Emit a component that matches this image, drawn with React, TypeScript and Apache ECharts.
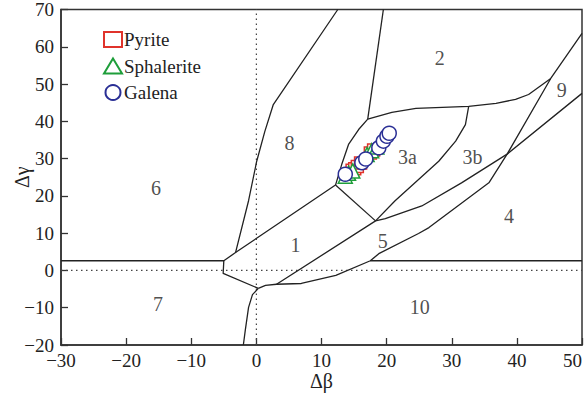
import React, { useEffect, useRef } from "react";
import * as echarts from "echarts";

// ---- data ----
const pyrite: [number, number][] = [
  [14.7, 26.9], [15.1, 27.3], [15.5, 27.9], [16.0, 28.8], [17.5, 31.5], [18.0, 32.3],
];
const sphalerite: [number, number][] = [
  [13.65, 25.3], [14.15, 26.1], [14.8, 26.7], [17.0, 31.1], [17.7, 32.1], [18.5, 33.1],
];
const galena: [number, number][] = [
  [13.65, 25.8], [16.2, 28.9], [16.8, 29.9], [18.8, 32.9], [19.5, 34.7], [20.05, 36.0], [20.4, 36.8],
];

// field boundaries
const lineA: [number, number][] = [[-30, 2.6], [-5, 2.6], [-5.1, -0.8], [0.3, -4.8]];
const lineB: [number, number][] = [[0.3, -4.8], [-0.6, -6.5], [-1.2, -9.9], [-1.7, -16], [-2, -20]];
const lineC: [number, number][] = [
  [0.3, -4.8], [1.4, -4], [3.1, -3.7], [6.9, -3.5], [12.2, -1.3], [17.5, 2.6], [18.8, 4.5],
  [24.9, 9.9], [26.5, 11.5], [35.7, 23.5], [38.5, 31.2], [45.2, 51.5], [50, 63.6],
];
const lineD: [number, number][] = [[17.5, 2.6], [50, 2.6]];
const lineE: [number, number][] = [
  [3.1, -3.7], [18.3, 13.3], [21.3, 18.7], [28, 29.3], [30.6, 34.7], [32.1, 39.1], [32.6, 44],
];
const lineF: [number, number][] = [
  [18.3, 13.3], [19.8, 13.9], [25.4, 17.3], [31.5, 23.5], [38.5, 31.2], [50, 47.5],
];
const lineG: [number, number][] = [
  [17.1, 40.6], [20.8, 42.4], [24.5, 43.5], [32.6, 44], [36.8, 44.8], [39.8, 45.9], [41.8, 47.2], [45.2, 51.5],
];
const lineH: [number, number][] = [[17.1, 40.6], [19.5, 70]];
const lineI: [number, number][] = [[12.15, 22.9], [13.1, 28.4], [14.15, 33.8], [15.7, 37.8], [17.1, 40.6]];
const lineJ: [number, number][] = [[12.15, 22.9], [18.3, 13.3]];
const lineK: [number, number][] = [[-5, 2.6], [-3.2, 4.8], [12.15, 22.9]];
const lineL: [number, number][] = [
  [-3.2, 4.8], [-1.2, 18.7], [0.05, 29.3], [1.3, 37.3], [2.6, 44.5], [12.5, 70],
];
const boundaries = [lineA, lineB, lineC, lineD, lineE, lineF, lineG, lineH, lineI, lineJ, lineK, lineL];

const refV: [number, number][] = [[0, -20], [0, 70]];
const refH: [number, number][] = [[-30, 0], [50, 0]];

const zoneNames = ["2", "9", "8", "3a", "3b", "6", "1", "5", "4", "7", "10"];
const zoneX = [28.15, 46.9, 5.1, 23.2, 33.2, -15.4, 6.0, 19.4, 38.8, -15.1, 25.1];
const zoneY = [57.1, 48.5, 34.1, 30.4, 30.4, 22.1, 6.9, 8.0, 14.7, -9.1, -9.9];

const xTicks = { min: -30, max: 50, interval: 10 };
const yTicks = { min: -20, max: 70, interval: 10 };

const FONT = "Liberation Serif, Times New Roman, serif";
const INK = "#222";

const fmt = (v: number) => (v < 0 ? "\u2212" + Math.abs(v) : String(v));

export default function App() {
  const ref = useRef<HTMLDivElement>(null);
  useEffect(() => {
    if (!ref.current) return;
    const chart = echarts.init(ref.current, null, { renderer: "svg" });
    const lineSeries = boundaries.map((d, i) => ({
      type: "line",
      name: "b" + i,
      data: d,
      showSymbol: false,
      symbol: "none",
      silent: true,
      z: 2,
      lineStyle: { color: INK, width: 1.3 },
    }));
    const refSeries = [refV, refH].map((d, i) => ({
      type: "line",
      name: "r" + i,
      data: d,
      showSymbol: false,
      symbol: "none",
      silent: true,
      z: 1,
      lineStyle: { color: "#444", width: 1.2, type: [1.5, 3.5] },
    }));
    const mk = (name: string, data: [number, number][], symbol: string, size: number, color: string) => ({
      type: "scatter",
      name,
      data,
      symbol,
      symbolSize: size,
      z: 5,
      itemStyle: { color: "#fff", borderColor: color, borderWidth: 1.5, opacity: 1 },
    });
    chart.setOption({
      animation: false,
      textStyle: { fontFamily: FONT },
      grid: { left: 61, right: 4, top: 7.5, bottom: 51, show: true, borderColor: "#333", borderWidth: 1.5 },
      legend: {
        orient: "vertical",
        left: 98,
        top: 25,
        itemWidth: 18,
        itemHeight: 15,
        itemGap: 7.5,
        data: ["Pyrite", "Sphalerite", "Galena"],
        textStyle: { fontFamily: FONT, fontSize: 19, color: INK, padding: [0, 0, 0, -3] },
      },
      xAxis: {
        type: "value",
        ...xTicks,
        name: "\u0394\u03b2",
        nameLocation: "middle",
        nameGap: 26,
        nameMoveOverlap: false,
        nameTextStyle: { fontFamily: FONT, fontSize: 20, color: INK },
        axisLine: { onZero: false, lineStyle: { color: "#333", width: 1.5 } },
        axisTick: { inside: true, length: 7, lineStyle: { color: "#333", width: 1.3 } },
        axisLabel: { formatter: fmt, fontFamily: FONT, fontSize: 19, color: INK, margin: 6, alignMaxLabel: "right" },
        splitLine: { show: false },
      },
      yAxis: {
        type: "value",
        ...yTicks,
        name: "\u0394\u03b3",
        nameLocation: "middle",
        nameGap: 29,
        nameMoveOverlap: false,
        nameTextStyle: { fontFamily: FONT, fontSize: 20, color: INK },
        axisLine: { onZero: false, lineStyle: { color: "#333", width: 1.5 } },
        axisTick: { inside: true, length: 7, lineStyle: { color: "#333", width: 1.3 } },
        axisLabel: { formatter: fmt, fontFamily: FONT, fontSize: 19, color: INK, margin: 7 },
        splitLine: { show: false },
      },
      series: [
        ...refSeries,
        ...lineSeries,
        {
          type: "scatter",
          name: "zones",
          silent: true,
          symbolSize: 1,
          itemStyle: { color: "rgba(0,0,0,0)" },
          z: 3,
          data: zoneNames.map((n, i) => ({ name: n, value: [zoneX[i], zoneY[i]] })),
          label: {
            show: true,
            position: "inside",
            formatter: (p: any) => p.name,
            fontFamily: FONT,
            fontSize: 20,
            color: INK,
          },
        },
        mk("Pyrite", pyrite, "rect", 12, "#e0332b"),
        mk("Sphalerite", sphalerite, "triangle", 14, "#1e9e3a"),
        mk("Galena", galena, "circle", 14, "#2a2f95"),
      ],
    });
    return () => chart.dispose();
  }, []);
  return <div ref={ref} style={{ position: "absolute", left: 0, top: 0, width: 586, height: 396 }} />;
}
